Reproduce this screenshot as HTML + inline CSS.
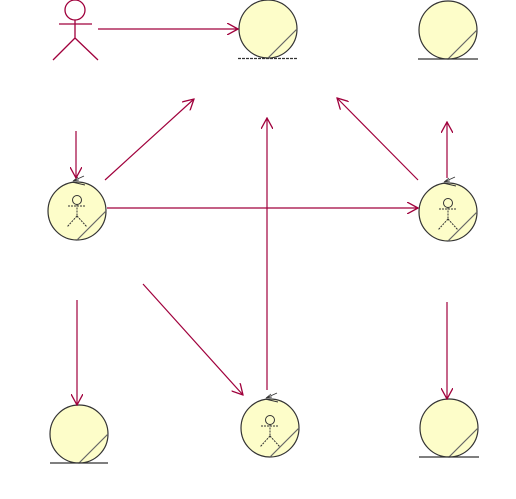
<!DOCTYPE html>
<html><head><meta charset="utf-8"><style>html,body{margin:0;padding:0;background:#fff}svg{display:block}</style></head>
<body>
<svg width="516" height="499" viewBox="0 0 516 499" xmlns="http://www.w3.org/2000/svg">
<defs>
<marker id="a" viewBox="0 0 12 12" refX="11" refY="6" markerWidth="12" markerHeight="12" markerUnits="userSpaceOnUse" orient="auto">
<path d="M0,0 L11,6 L0,12" fill="none" stroke="#a0003c" stroke-width="1.3"/>
</marker>
<g id="ctl">
<path d="M-5,-29 L8,-26" stroke="#333" stroke-width="1" fill="none"/>
<path d="M-4,-30 L7,-35 M-4,-30 L2,-31 M-4,-30 L1,-34" stroke="#333" stroke-width="0.8" fill="none"/>
</g>
<g id="act">
<circle cx="0" cy="-10" r="4.5" fill="none" stroke="#333" stroke-width="1"/>
<path d="M-9,-4 H9 M0,-5.5 V6 M0,6 L-10,17 M0,6 L10,17" stroke="#333" stroke-width="1" fill="none" stroke-dasharray="2,1"/>
</g>
</defs>
<g fill="#fdfdc9" stroke="#333" stroke-width="1.2">
<circle cx="268" cy="29" r="29"/>
<circle cx="448" cy="30" r="29"/>
<circle cx="77" cy="211" r="29"/>
<circle cx="448" cy="212" r="29"/>
<circle cx="79" cy="434" r="29"/>
<circle cx="270" cy="428" r="29"/>
<circle cx="449" cy="428" r="29"/>
</g>
<g stroke="#666" stroke-width="1.2" fill="none">
<path d="M268,58 L297,29"/>
<path d="M448,59 L477,30"/>
<path d="M77,240 L106,211"/>
<path d="M448,241 L477,212"/>
<path d="M79,463 L108,434"/>
<path d="M270,457 L299,428"/>
<path d="M449,457 L478,428"/>
</g>
<g stroke="#333" stroke-width="1.3">
<path d="M238,58.5 H298" stroke-dasharray="3,1"/>
<path d="M418,59 H478"/>
<path d="M50,463 H108"/>
<path d="M419,457 H479"/>
</g>
<use href="#ctl" x="77" y="211"/>
<use href="#ctl" x="448" y="212"/>
<use href="#ctl" x="270" y="428"/>
<use href="#act" x="77" y="210"/>
<use href="#act" x="448" y="213"/>
<use href="#act" x="270" y="430"/>
<g stroke="#a0003c" stroke-width="1.3" fill="none">
<circle cx="75" cy="10" r="10"/>
<path d="M59,24 H92 M75,20 V38 M75,38 L53,60 M75,38 L98,60"/>
</g>
<g stroke="#a0003c" stroke-width="1.2" fill="none" marker-end="url(#a)">
<path d="M98,29 L238,29"/>
<path d="M76,131 L76,178"/>
<path d="M105,180 L194,99"/>
<path d="M107,208 L418,208"/>
<path d="M267,390 L267,118"/>
<path d="M418,180 L337,98"/>
<path d="M447,178 L447,122"/>
<path d="M77,300 L77,405"/>
<path d="M143,284 L243,395"/>
<path d="M447,302 L447,399"/>
</g>
</svg>
</body></html>
